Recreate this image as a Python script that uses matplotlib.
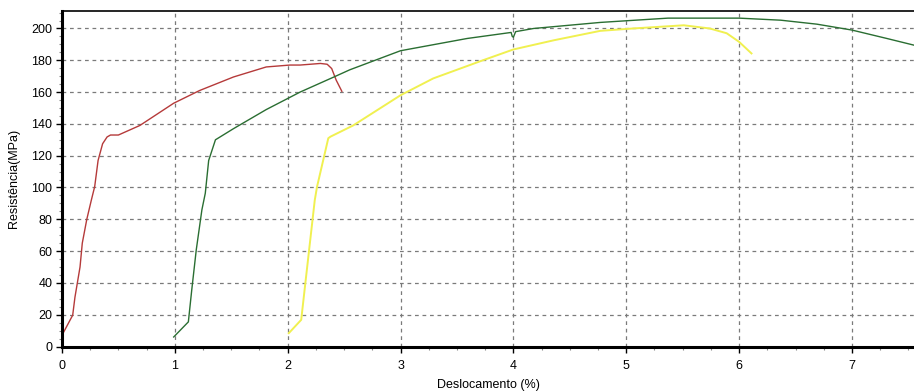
import matplotlib
matplotlib.use('Agg')
from matplotlib import pyplot as plt
from matplotlib.ticker import MultipleLocator

plt.rcParams['font.family'] = ['Liberation Sans', 'DejaVu Sans']

# deslocamento (%) / resistencia (MPa)
red_x = [0.0, 0.01, 0.095, 0.115, 0.16, 0.18, 0.22, 0.26, 0.29, 0.32, 0.36, 0.40, 0.43, 0.50,
         0.69, 0.99, 1.22, 1.52, 1.81, 2.02, 2.11, 2.29, 2.35, 2.39, 2.43, 2.48]
red_y = [5, 8.4, 19.7, 31, 50, 65, 80, 92, 100.6, 117, 127.5, 131.8, 133, 133,
         139, 153, 161, 169.5, 175.8, 177, 177, 178, 177.5, 174.8, 167.5, 160.5]

green_x = [0.99, 1.12, 1.15, 1.19, 1.24, 1.27, 1.30, 1.36, 1.52, 1.81, 2.11, 2.41, 2.55,
           3.0, 3.59, 3.98, 3.99, 4.0, 4.02, 4.18, 4.77, 5.08, 5.37, 6.0, 6.37, 6.69,
           7.0, 7.31, 7.55]
green_y = [6, 15.5, 35.6, 60.8, 86, 96.4, 117, 130, 137, 149, 160, 169.5, 174,
           186, 193.7, 197.5, 195, 194.5, 198, 200, 203.8, 205.2, 206.5, 206.5, 205.2, 202.7,
           199, 193.7, 189.5]

yellow_x = [2.01, 2.12, 2.15, 2.20, 2.24, 2.26, 2.36, 2.38, 2.58, 3.0, 3.29, 3.73, 4.0,
            4.36, 4.77, 5.06, 5.51, 5.74, 5.89, 6.0, 6.11]
yellow_y = [8.4, 16.8, 35.7, 67, 92, 100.4, 131, 132, 139, 158, 168.6, 180, 186.8,
            192.6, 198.5, 200, 202, 200, 197, 191.6, 184.3]

fig = plt.figure(figsize=(9.14, 3.92), dpi=100)
ax = fig.add_axes([0.0678, 0.116, 0.9322, 0.856])

ax.plot(red_x, red_y, color='#b53a3a', lw=1.0)
ax.plot(green_x, green_y, color='#2a6e32', lw=1.0)
ax.plot(yellow_x, yellow_y, color='#f0f050', lw=1.4)

ax.set_xlim(0, 7.55)
ax.set_ylim(0, 211)
ax.xaxis.set_major_locator(MultipleLocator(1))
ax.xaxis.set_minor_locator(MultipleLocator(0.25))
ax.yaxis.set_major_locator(MultipleLocator(20))
ax.yaxis.set_minor_locator(MultipleLocator(5))

ax.grid(True, which='major', color='#7a7a7a', linestyle=(0, (3, 3)), lw=0.9)
ax.set_axisbelow(True)

ax.spines['right'].set_visible(False)
ax.spines['left'].set_linewidth(2.2)
ax.spines['bottom'].set_linewidth(2.2)
ax.spines['top'].set_linewidth(1.2)

ax.tick_params(which='major', direction='out', length=4, width=1, labelsize=9, pad=3)
ax.tick_params(which='minor', direction='out', length=2, width=0.8, color='#888888')
ax.tick_params(axis='x', pad=6)

ax.set_xlabel('Deslocamento (%)', fontsize=9, labelpad=5)
ax.set_ylabel('Resistência(MPa)', fontsize=9, labelpad=8)

fig.savefig('out.png', dpi=100)
